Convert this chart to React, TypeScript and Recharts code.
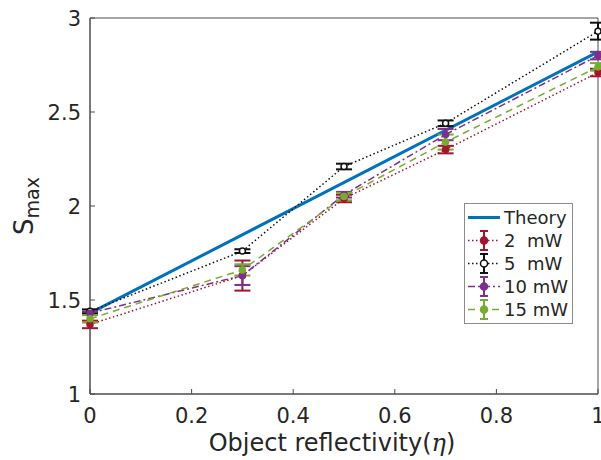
import { ComposedChart, Line, XAxis, YAxis, ErrorBar, Legend, ReferenceArea, Label } from "recharts"

const eta = [0, 0.3, 0.5, 0.7, 1]
const theoryEta = [0, 1]
const theory = [1.43, 2.82]

const mw2 = [1.37, 1.63, 2.04, 2.3, 2.71]
const err2 = [0.02, 0.08, 0.02, 0.02, 0.02]
const mw5 = [1.44, 1.76, 2.21, 2.44, 2.93]
const err5 = [0.01, 0.01, 0.015, 0.015, 0.045]
const mw10 = [1.43, 1.63, 2.06, 2.38, 2.8]
const err10 = [0.01, 0.05, 0.015, 0.03, 0.02]
const mw15 = [1.4, 1.66, 2.05, 2.34, 2.74]
const err15 = [0.02, 0.03, 0.02, 0.04, 0.02]

const names = ["Theory", "2  mW", "5  mW", "10 mW", "15 mW"]
const xTicks = [0, 0.2, 0.4, 0.6, 0.8, 1]
const yTicks = [1, 1.5, 2, 2.5, 3]

const data = eta.map((x, i) => ({
  x,
  mw2: mw2[i], err2: err2[i],
  mw5: mw5[i], err5: err5[i],
  mw10: mw10[i], err10: err10[i],
  mw15: mw15[i], err15: err15[i],
}))
const theoryData = theoryEta.map((x, i) => ({ x, theory: theory[i] }))

const FONT = "DejaVu Sans, sans-serif"
const AXIS = "#4d4d4d"
const TXT = "#262626"

const series = [
  { key: "mw2", err: "err2", color: "#A2142F", dash: "1.5 2.5", fill: "#A2142F" },
  { key: "mw5", err: "err5", color: "#111111", dash: "1.5 2.5", fill: "#ffffff" },
  { key: "mw10", err: "err10", color: "#7E2F8E", dash: "7 3 2 3", fill: "#7E2F8E" },
  { key: "mw15", err: "err15", color: "#77AC30", dash: "7 5", fill: "#77AC30" },
]

const XTick = (props: any) => {
  const { x, y, payload } = props
  return (
    <g>
      <line x1={x} y1={y} x2={x} y2={y - 5} stroke={AXIS} />
      <text x={x} y={y + 29} textAnchor="middle" fill={TXT} fontSize={21} fontFamily={FONT}>{payload.value}</text>
    </g>
  )
}

const YTick = (props: any) => {
  const { x, y, payload } = props
  return (
    <g>
      <line x1={x} y1={y} x2={x + 5} y2={y} stroke={AXIS} />
      <text x={x - 9} y={y + 7.5} textAnchor="end" fill={TXT} fontSize={21} fontFamily={FONT}>{payload.value}</text>
    </g>
  )
}

const LegendBox = () => (
  <div style={{ border: "1px solid #8c8c8c", background: "#fff", padding: "2px 4px 2px 2px", fontFamily: FONT, fontSize: 18, color: TXT, lineHeight: "23px" }}>
    {names.map((n, i) => {
      const s = i === 0 ? null : series[i - 1]
      return (
        <div key={n} style={{ display: "flex", alignItems: "center", height: 23 }}>
          <svg width={34} height={23} style={{ marginRight: 3 }}>
            {s ? (
              <g>
                <line x1={1} y1={11.5} x2={33} y2={11.5} stroke={s.color} strokeWidth={1.5} strokeDasharray={s.dash} />
                <line x1={17} y1={2} x2={17} y2={21} stroke={s.color} strokeWidth={2} />
                <line x1={13} y1={2} x2={21} y2={2} stroke={s.color} strokeWidth={2} />
                <line x1={13} y1={21} x2={21} y2={21} stroke={s.color} strokeWidth={2} />
                <circle cx={17} cy={11.5} r={3.5} fill={s.fill} stroke={s.color} strokeWidth={1.5} />
              </g>
            ) : (
              <line x1={1} y1={11.5} x2={33} y2={11.5} stroke="#0072BD" strokeWidth={3} />
            )}
          </svg>
          <span style={{ whiteSpace: "pre" }}>{n}</span>
        </div>
      )
    })}
  </div>
)

const YLabel = (props: any) => {
  const vb = props.viewBox
  const cx = vb.x + 33
  const cy = vb.y + vb.height / 2
  return (
    <text x={cx} y={cy} transform={`rotate(-90, ${cx}, ${cy})`} textAnchor="middle" fill={TXT} fontFamily={FONT} fontSize={26}>
      S<tspan fontSize={19} dy={6}>max</tspan>
    </text>
  )
}

const XLabel = (props: any) => {
  const vb = props.viewBox
  return (
    <text x={vb.x + vb.width / 2 - 12} y={vb.y + 57} textAnchor="middle" fill={TXT} fontFamily={FONT} fontSize={24}>
      Object reflectivity(<tspan fontFamily="DejaVu Serif, serif" fontStyle="italic">η</tspan>)
    </text>
  )
}

export default function App() {
  return (
    <div style={{ position: "absolute", left: 0, top: 0, width: 601, height: 460, background: "#fff" }}>
      <ComposedChart width={601} height={460} data={data} margin={{ top: 18, right: 3, bottom: 0, left: 0 }}>
        <XAxis dataKey="x" type="number" domain={[0, 1]} ticks={xTicks} interval={0} height={66}
          axisLine={{ stroke: AXIS }} tickLine={false} tickSize={0} tickMargin={0} tick={<XTick />}>
          <Label content={<XLabel />} />
        </XAxis>
        <YAxis type="number" domain={[1, 3]} ticks={yTicks} interval={0} width={90}
          axisLine={{ stroke: AXIS }} tickLine={false} tickSize={0} tickMargin={0} tick={<YTick />}>
          <Label content={<YLabel />} />
        </YAxis>
        <ReferenceArea x1={0} x2={1} y1={1} y2={3} fill="none" stroke={AXIS} ifOverflow="visible" />
        <Line data={theoryData} dataKey="theory" stroke="#0072BD" strokeWidth={3} dot={false} isAnimationActive={false} />
        {series.map(s => (
          <Line key={s.key} dataKey={s.key} stroke={s.color} strokeWidth={1.5} strokeDasharray={s.dash}
            dot={{ r: 3, fill: s.fill, stroke: s.color, strokeWidth: 1.5, strokeDasharray: "" }} activeDot={false} isAnimationActive={false}>
            <ErrorBar dataKey={s.err} width={8} strokeWidth={2} stroke={s.color} direction="y" isAnimationActive={false} />
          </Line>
        ))}
        <Legend content={<LegendBox />} layout="vertical" align="center" verticalAlign="middle"
          wrapperStyle={{ position: "absolute", left: 464, top: 203, width: "auto", height: "auto" }} />
      </ComposedChart>
    </div>
  )
}
